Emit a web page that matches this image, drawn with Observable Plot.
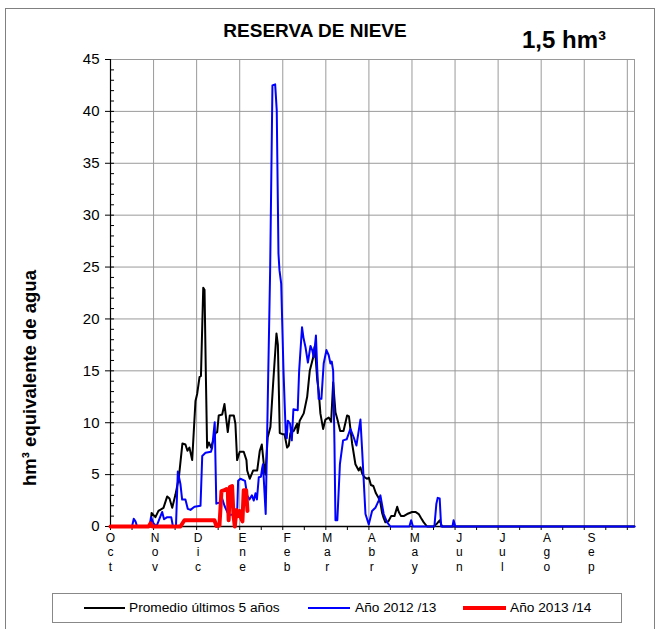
<!DOCTYPE html>
<html><head><meta charset="utf-8">
<script src="https://cdn.jsdelivr.net/npm/d3@7"></script>
<script src="https://cdn.jsdelivr.net/npm/@observablehq/plot@0.6"></script>
<style>
body{margin:0;background:#fff;font-family:"Liberation Sans",Arial,sans-serif;}
#wrap{position:relative;width:659px;height:629px;overflow:hidden;background:#fff;}
#outer{position:absolute;left:5px;top:8px;width:650px;height:640px;border:1px solid #808080;box-sizing:border-box;}
#chart{position:absolute;left:0;top:0;}
#title{position:absolute;left:0;width:630px;top:20px;text-align:center;font-weight:bold;font-size:19px;}
#vol{position:absolute;left:522px;top:26px;font-weight:bold;font-size:24px;}
#ylab{position:absolute;left:30px;top:378px;transform:translate(-50%,-50%) rotate(-90deg);white-space:nowrap;font-weight:bold;font-size:18.5px;}
#legend{position:absolute;left:52px;top:593px;width:570px;height:30px;border:1px solid #888;box-sizing:border-box;background:#fff;font-size:13.7px;}
.li{position:absolute;top:13px;height:0;}
.lt{position:absolute;top:6px;white-space:nowrap;}
</style>
</head><body>
<div id="wrap">
  <div id="outer"></div>
  <div id="chart"></div>
  <div id="title">RESERVA DE NIEVE</div>
  <div id="vol">1,5 hm³</div>
  <div id="ylab">hm³ equivalente de agua</div>
  <div id="legend"></div>
</div>
<script>
// Month labels (water year Oct–Sep) and their start day index
const monthLabels = ["Oct","Nov","Dic","Ene","Feb","Mar","Abr","May","Jun","Jul","Ago","Sep"];
const monthStartDays = [0,31,61,92,123,151,182,212,243,273,304,335];
const yTicks = [0,5,10,15,20,25,30,35,40,45];

const seriesNames = ["Promedio últimos 5 años","Año 2012 /13","Año 2013 /14"];
const seriesColors = ["#000000","#0000ff","#ff0000"];

// Promedio últimos 5 años (day of water year, hm3)
const promDays = [0,27.9,28.6,31.3,33.4,36.9,39.5,41.1,43,45.3,47.6,50.1,52.2,53.6,55,56.9,59.2,60.4,62,63,64.6,65.5,66.5,67.3,68.5,70.1,73.1,74.3,75.4,77.8,79.4,80.3,81.7,83.1,85.9,87,88.2,90,92.8,94.7,95.2,97,99.4,102.2,104,105.4,106.8,107.9,109.5,111.4,113.3,115.6,116.6,117.9,119.8,121.2,123,124.2,125.3,127.6,130,130.4,131.8,134.6,137,138.8,141.2,142.1,142.8,144,145,146.2,148.1,149.7,152,153.7,155.1,156.7,158.3,160,162.3,164.8,166.1,168.3,170.6,172.9,174.1,175.3,176.9,178.8,180,181.4,183.1,184.9,186.6,188,189.2,190.3,191.5,193.6,195.5,197.8,199.7,200.8,202.4,204.2,206.6,210.1,212.4,214.7,216.4,218.2,220.5,225,227.5,229.3,231,365];
const promVals = [0,0,1.3,0.9,1.5,1.8,2.9,2.7,1.8,3.1,4.7,8.0,7.9,7.3,7.6,6.4,12.1,12.8,14.4,14.5,23.0,22.8,14.0,7.6,8.1,7.6,9.0,9.1,10.7,10.8,11.8,10.7,9.1,10.7,10.7,9.9,6.4,7.2,7.2,6.4,5.4,4.6,5.4,5.4,7.3,7.9,6.0,5.0,8.6,9.6,13.8,18.6,17.5,9.0,8.9,8.9,7.6,7.8,9.0,9.2,9.9,9.0,10.2,10.9,12.5,15.0,16.3,17.3,16.5,14.1,13.1,10.9,9.4,10.3,10.5,10.1,13.9,11.0,10.2,9.2,9.2,10.7,10.6,8.0,6.0,5.4,5.7,5.1,4.75,4.6,4.7,4.0,3.9,3.2,2.8,2.3,1.3,0.8,0.4,0.5,1.0,1.0,1.9,1.4,1.0,1.0,1.2,1.4,1.4,1.2,0.8,0.4,0,0,0.3,0.6,0,0];

// Año 2012/13
const y1213Days = [0,15,16.2,17.4,18.5,27.2,28.2,30,32,33.4,36,37.3,39.5,42.3,43.5,45.6,46.9,48.7,49.9,52.2,53.8,55.7,58.5,62.7,63.9,66.2,70,70.8,72.6,73.7,75.9,77.8,79.4,81.3,82.5,88.2,88.9,90.5,93.7,95.2,96.8,98.5,99.8,101,102,103.3,104.8,105.6,106.2,108.1,109.5,111.2,112.8,114.7,115.8,117,117.7,118.9,120.5,122.1,122.8,123.5,125.1,126.3,127.4,130.4,131.4,133.4,134.4,135.8,137.5,139.3,140.5,141.6,143.1,144,145,146.9,148.5,150.4,152,153.2,154.1,155.1,156,156.7,158,159.8,162,164.5,167.1,169.4,171.3,174.1,175.3,177.6,179.9,182.2,184.5,186.8,188,190.3,192.7,195,208.2,209.4,210.7,225.6,227,227.9,229.3,230.3,238.2,239,240.2,365];
const y1213Vals = [0,0,0.74,0.5,0,0,0.9,0.3,0,0.5,1.4,0.7,0.9,0.9,0,0,5.3,4.1,2.6,2.6,1.7,1.6,1.9,2.0,6.8,7.1,7.2,7.6,10.05,2.2,2.3,2.7,2.0,1.4,1.1,1.2,4.4,4.6,4.4,3.0,2.6,3.0,2.5,3.2,2.6,4.75,4.8,5.6,6.0,1.2,11.8,24.7,42.5,42.6,40.1,26.3,24.7,23.4,15.0,8.8,8.5,10.2,9.9,8.3,11.3,11.2,15.0,19.2,18.2,17.3,15.8,17.4,17.0,16.3,18.4,15.2,12.3,12.3,15.7,17.0,16.5,15.7,15.9,15.0,8.0,0.6,0.6,6.0,8.3,8.4,9.4,8.6,7.8,10.3,7.3,1.2,0.2,1.5,1.8,2.5,3.0,1.2,0.4,0,0,0.6,0,0,2.2,2.76,2.7,0,0,0.6,0,0];

// Año 2013/14
const y1314Days = [0,26.5,27.9,29.2,48.7,51.5,72.4,73.8,75.9,77.3,79.4,80.8,81.7,82.3,83.1,84.7,85.7,86.6,87.7,88.8,89.8,91,91.9,92.8,94.5,95.4];
const y1314Vals = [0,0,0.3,0,0,0.6,0.6,0.05,0.1,3.4,3.5,3.6,3.5,0.6,3.8,3.9,1.0,0,1.6,1.0,1.5,0.8,0.5,3.5,3.5,1.5];

const toRows = (days, vals) => days.map((d, i) => ({day: d, v: vals[i]}));
const prom = toRows(promDays, promVals);
const y1213 = toRows(y1213Days, y1213Vals);
const y1314 = toRows(y1314Days, y1314Vals);

const grid = "#9a9a9a";
const plot = Plot.plot({
  width: 659, height: 580,
  marginLeft: 110, marginRight: 25, marginTop: 59, marginBottom: 54,
  style: {fontFamily: "Liberation Sans, Arial, sans-serif", background: "transparent", color: "#000"},
  x: {domain: [0, 365]},
  y: {domain: [0, 45]},
  marks: [
    Plot.ruleY(yTicks.slice(1), {stroke: grid, strokeWidth: 1}),
    Plot.ruleX(d3.range(30, 361, 30), {stroke: grid, strokeWidth: 1}),
    Plot.ruleX([365], {stroke: grid, strokeWidth: 1}),
    Plot.ruleY(d3.range(1, 45), {x1: 0, x2: 2.8, stroke: "#000"}),
    Plot.axisY({ticks: yTicks, tickSize: 5, tickPadding: 6, fontSize: 15, label: null}),
    Plot.axisX({ticks: d3.range(0, 366, 15), tickSize: 4, tickFormat: () => "", label: null}),
    Plot.axisX({ticks: monthStartDays, tickSize: 0, tickPadding: 5, fontSize: 12, lineHeight: 1.2,
      tickFormat: d => monthLabels[monthStartDays.indexOf(d)].split("").join("\n"), label: null}),
    Plot.ruleX([0], {stroke: "#000", strokeWidth: 1.2}),
    Plot.ruleY([0], {stroke: "#000", strokeWidth: 1.5}),
    Plot.line(prom, {x: "day", y: "v", stroke: seriesColors[0], strokeWidth: 2}),
    Plot.line(y1213, {x: "day", y: "v", stroke: seriesColors[1], strokeWidth: 2}),
    Plot.line(y1314, {x: "day", y: "v", stroke: seriesColors[2], strokeWidth: 4})
  ]
});
document.getElementById("chart").appendChild(plot);

// legend
const legend = document.getElementById("legend");
const lineX = [31, 255, 410];
const lineW = [41, 42, 43];
const lineT = [2, 2, 4];
const textX = [76, 302, 457];
seriesNames.forEach((name, i) => {
  const l = document.createElement("div");
  l.className = "li";
  l.style.left = lineX[i] + "px";
  l.style.width = lineW[i] + "px";
  l.style.borderTop = lineT[i] + "px solid " + seriesColors[i];
  l.style.top = (14 - lineT[i] / 2) + "px";
  legend.appendChild(l);
  const t = document.createElement("div");
  t.className = "lt";
  t.style.left = textX[i] + "px";
  t.textContent = name;
  legend.appendChild(t);
});
</script>
</body></html>
